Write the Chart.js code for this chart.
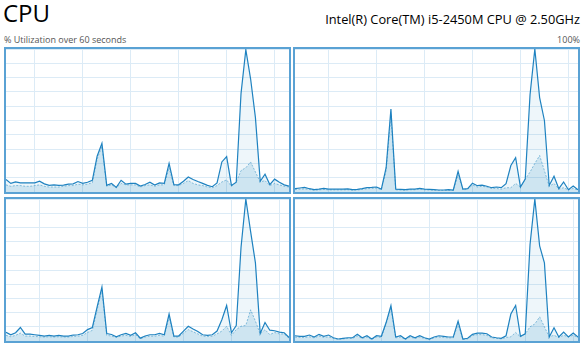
<!DOCTYPE html>
<html>
<head>
<meta charset="utf-8">
<script src="https://cdn.jsdelivr.net/npm/chart.js@4/dist/chart.umd.min.js"></script>
<style>
  html, body { margin:0; padding:0; background:#fff; }
  body { width:584px; height:346px; position:relative; overflow:hidden; font-family:"Open Sans","Noto Sans",sans-serif; }
  .t { position:absolute; white-space:nowrap; }
  #title { left:3px; top:-4px; font-size:24px; color:#000; }
  #model { right:4px; top:10px; font-size:12.8px; color:#000; }
  #sub { left:4px; top:33px; font-size:9px; color:#555; }
  #pct { right:4px; top:33px; font-size:9px; color:#555; }
  .panel { position:absolute; border:2px solid #5aa2d4; box-sizing:border-box; width:287px; }
  .panel canvas { display:block; }
</style>
</head>
<body>
<div class="t" id="title">CPU</div>
<div class="t" id="model">Intel(R) Core(TM) i5-2450M CPU @ 2.50GHz</div>
<div class="t" id="sub">% Utilization over 60 seconds</div>
<div class="t" id="pct">100%</div>

<div class="panel" style="left:4px;top:47px;height:147px;"><canvas id="c0"></canvas></div>
<div class="panel" style="left:293px;top:47px;height:147px;"><canvas id="c1"></canvas></div>
<div class="panel" style="left:4px;top:197px;height:146px;"><canvas id="c2"></canvas></div>
<div class="panel" style="left:293px;top:197px;height:146px;"><canvas id="c3"></canvas></div>

<script>
// 60 samples (one per second), index 0..59
const seconds = Array.from({length:60}, (_, i) => i);

// Vertical grid line positions (in samples) per panel
const gridTL = [6, 16, 26, 36, 46, 56];
const gridTR = [7, 17, 27, 37, 47, 57];
const gridBL = [7, 17, 27, 37, 47, 57];
const gridBR = [8, 18, 28, 38, 48, 58];

// Total utilization (%) per logical processor
const totalTL = [8.7,6,7,6.4,6.4,6.4,6.4,7.5,5.7,4.6,5,4.6,4.8,5.5,5.7,7.3,6,6.8,8.2,25,
                 34,4.6,6,3.2,8.2,5.5,6,6,4.1,5.2,6.8,4.8,6.4,6,20,5.2,5,7.5,10.5,8.7,
                 7.3,6,4.6,3.7,6.4,21,24.7,4.6,6.8,69,99.5,79,52,7.5,12.5,5.2,9,6.8,5,4.1];
const totalTR = [2.3,2.8,3.2,2.3,1.6,2,2.5,2,2,2,2,2.2,1.6,1.8,2.3,3,3.2,3.5,2,17,
                 58,2,1.8,1.6,2,2,2.5,2,1.8,1.6,1.4,1.4,1.6,1.4,14.5,2,2.3,6.2,4.4,4.8,
                 4,3,3.5,3,5.8,18.5,24,3.5,9,68,100,66,50,4.6,11,2.3,7,1.6,4.2,1.6];
const totalBL = [6.2,4.4,5.8,9.5,4.8,4.8,4.4,4,3.5,4,3.5,4,3.5,3.5,4.2,4.4,5.3,8,9.5,24,
                 38,5.3,4.6,3,4.4,5.3,4,5.8,2,3.5,4.4,4.4,5.3,4.4,19,3.5,3.5,7,10.4,8.5,
                 6.7,4.4,4,4.4,7,15,25,5.8,10.8,66,100,77,55,5.3,13,7.6,7.2,6.2,5.8,2.5];
const totalBR = [3.7,3.3,3.3,4.2,2.8,4.7,3.3,4.2,2.3,1.4,1.9,2.3,2.3,4.7,2.3,3.7,1.4,3.7,3.3,13,
                 25,2.8,3.7,1.4,3.7,2.3,3.7,2.3,1.4,2.8,3.7,3.3,2.8,2.8,14,1.4,1.9,4.7,5.6,5.6,
                 5.1,2.8,2.3,1.9,3.7,19,25,3.3,5.1,68,100,67,55,2.8,9.3,2.8,6.3,2.8,5.6,2.8];

// Kernel time (%) per logical processor
const kernelTL = [5,4,4.5,4.5,4,4,4.5,5,4,3.5,3.5,3.5,4,4.5,4.5,5.5,5,5.5,6.5,23,
                  32,4,5,3,6,5,5,5,3.5,4.5,5,4,5,5,17,4.5,4.5,6,8,6,
                  5,4.5,3.5,3,4.5,7,8.5,4,7,15,17,21,14,7,8,4.5,6,5,4,3.5];
const kernelTR = [1.8,2,2.2,1.8,1.2,1.5,1.8,1.5,1.5,1.5,1.5,1.6,1.2,1.4,1.8,2.3,2.5,2.8,1.6,15,
                  54,1.6,1.4,1.2,1.6,1.6,2,1.6,1.4,1.2,1.1,1.1,1.2,1.1,12,1.6,1.8,5,3.5,4,
                  3.5,2.5,2.5,2,3,3,6,3.5,9,14,20,25.5,15,4,6,2,3,1.5,2.5,1.4];
const kernelBL = [4,3,4,5.5,3.5,3.5,3.2,3,2.8,3,2.8,3,2.8,2.8,3.2,3.4,4,6,7.5,22,
                  36,4,3.5,2.5,3.5,4,3.2,4.5,1.6,2.8,3.4,3.4,4,3.4,17,2.8,2.8,5.5,8,6.5,
                  5,3.4,3.2,3.4,5,7,10.4,4,8,10.4,11,22,14,5,8,4.5,6,5,5,2];
const kernelBR = [2.8,2.5,2.5,3,2.2,3.5,2.5,3,1.8,1.1,1.5,1.8,1.8,3.5,1.8,2.8,1.1,2.8,2.5,12,
                  23,2.2,2.8,1.1,2.8,1.8,2.8,1.8,1.1,2.2,2.8,2.5,2.2,2.2,12,1.1,1.5,3.8,4.5,4.5,
                  4,2.2,1.8,1.5,2.5,3,6,3,5,10,12,17,10,3,4,2.5,4,3,4,2.5];

const LINE = 'rgb(30,130,192)';
const GRID = '#dcebf6';

function makeChart(id, total, kernel, grid) {
  new Chart(document.getElementById(id), {
    type: 'line',
    data: {
      datasets: [
        {
          data: total.map((v, i) => ({x: seconds[i], y: v})),
          borderColor: LINE,
          borderWidth: 1.2,
          backgroundColor: 'rgba(17,125,187,0.07)',
          fill: 'origin',
          pointRadius: 0,
          tension: 0,
          order: 1
        },
        {
          data: kernel.map((v, i) => ({x: seconds[i], y: v})),
          borderColor: 'rgba(17,125,187,0.45)',
          borderWidth: 1,
          borderDash: [2, 1.5],
          backgroundColor: 'rgba(17,125,187,0.14)',
          fill: 'origin',
          pointRadius: 0,
          tension: 0,
          order: 2
        }
      ]
    },
    options: {
      responsive: true,
      maintainAspectRatio: false,
      animation: false,
      events: [],
      layout: { padding: 0 },
      plugins: { legend: { display: false }, tooltip: { enabled: false } },
      scales: {
        x: {
          type: 'linear', min: 0, max: 59,
          afterBuildTicks: s => { s.ticks = grid.map(v => ({value: v})); },
          ticks: { display: false },
          grid: { color: GRID, lineWidth: 1, drawTicks: false },
          border: { display: false }
        },
        y: {
          min: 0, max: 100,
          ticks: { display: false, stepSize: 10 },
          grid: { color: GRID, lineWidth: 1, drawTicks: false },
          border: { display: false }
        }
      }
    }
  });
}

makeChart('c0', totalTL, kernelTL, gridTL);
makeChart('c1', totalTR, kernelTR, gridTR);
makeChart('c2', totalBL, kernelBL, gridBL);
makeChart('c3', totalBR, kernelBR, gridBR);
</script>
</body>
</html>
